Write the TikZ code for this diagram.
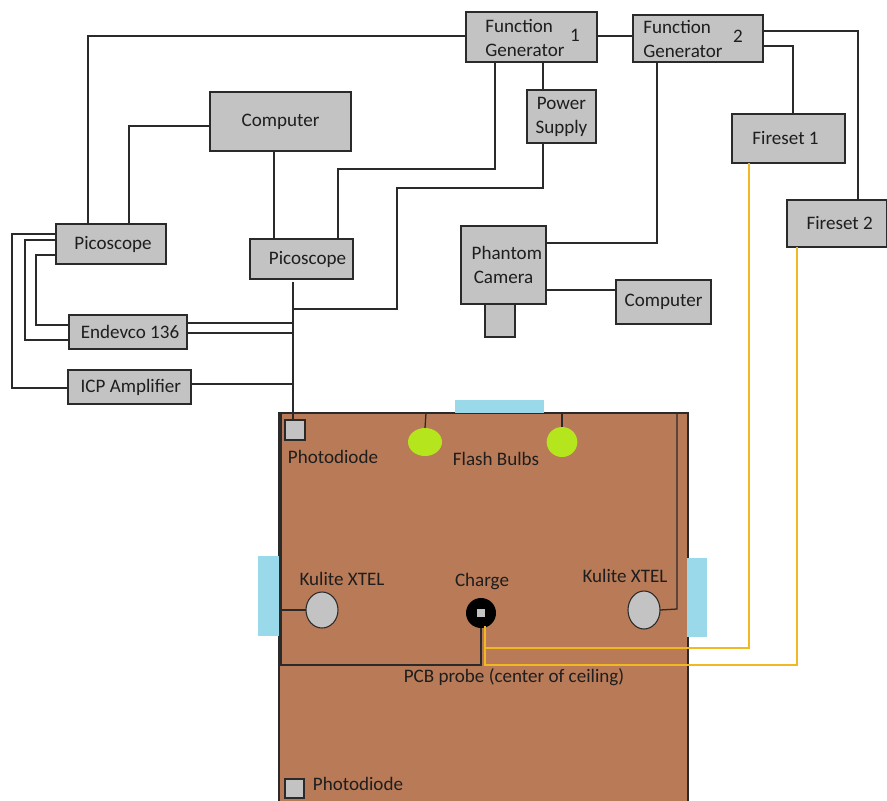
\documentclass[tikz,border=0pt]{standalone}
\usepackage{fontspec}
\setmainfont{Carlito}
\usetikzlibrary{calc}
\definecolor{boxgray}{HTML}{C3C3C3}
\definecolor{roombrown}{HTML}{B97A57}
\definecolor{window}{HTML}{99D9EA}
\definecolor{bulb}{HTML}{B5E61D}
\definecolor{wireyellow}{HTML}{F2B824}
\definecolor{wire}{HTML}{2A2A2A}
\definecolor{ink}{HTML}{1E1E1E}
\newcommand{\pxbox}[7][]{%
  \node[boxnode,#1,minimum width={(#5-#3)*0.75pt},minimum height={(#6-#4)*0.75pt}] (#2) at ({(#3+#5)/2},{(#4+#6)/2}) {#7};}
\tikzset{
  boxnode/.style={draw=wire,fill=boxgray,line width=1.1pt,inner sep=0pt,outer sep=0pt,text=ink,font=\fontsize{14.3}{18}\selectfont,align=center},
  lbl/.style={inner sep=0pt,outer sep=0pt,text=ink,font=\fontsize{14.3}{18}\selectfont,align=left},
  conn/.style={draw=wire,line width=0.95pt},
  yconn/.style={draw=wireyellow,line width=0.95pt},
  win/.style={boxnode,draw=none,fill=window},
  sensor/.style={draw=wire,fill=boxgray,line width=0.8pt,ellipse,inner sep=0pt,outer sep=0pt},
}
\usetikzlibrary{shapes.geometric}
\begin{document}
\begin{tikzpicture}[x=0.75pt,y=-0.75pt]
\useasboundingbox (0,0) rectangle (887,800);
\clip (0,0) rectangle (887,800);
% room and windows
\pxbox[fill=roombrown,line width=1.3pt]{room}{279}{413}{688}{812}{}
\pxbox[win]{wintop}{455}{400}{544}{413}{}
\pxbox[win]{winleft}{258}{556}{279}{636}{}
\pxbox[win]{winright}{687}{558}{707}{637}{}
% boxes
\pxbox{fg1}{466}{12}{597}{62}{}
\pxbox{fg2}{633}{15}{763}{62}{}
\pxbox{psu}{527}{90}{596}{143}{Power\\Supply}
\pxbox{fs1}{732}{114}{845}{163}{Fireset 1\hspace*{4.5pt}}
\pxbox{fs2}{787}{200}{887}{247}{\hspace*{4pt}Fireset 2}
\pxbox{cam}{461}{226}{546}{304}{\hspace*{5pt}Phantom\\Camera}
\pxbox{lens}{485}{304}{515}{337}{}
\pxbox{comb}{616}{280}{711}{324}{Computer}
\pxbox{coma}{210}{92}{351}{151}{Computer}
\pxbox{pl}{56}{224}{166}{264}{\hspace*{3pt}Picoscope}
\pxbox{pr}{250}{239}{353}{279}{\hspace*{9pt}Picoscope}
\pxbox{endevco}{69}{315}{187}{349}{\hspace*{3pt}Endevco 136}
\pxbox{icp}{68}{370}{191}{404}{\hspace*{2pt}ICP Amplifier}
\pxbox{pd}{285}{420}{305}{440}{}
\pxbox{pdb}{285}{779}{304}{798}{}
% box texts
\node[lbl] (fg1t) at (525,38) {Function\\Generator};
\node[lbl] (fg1n) at (575,35) {1};
\node[lbl] (fg2t) at (683,39) {Function\\Generator};
\node[lbl] (fg2n) at (738,36) {2};
% ceiling items
\node[sensor,fill=bulb,draw=none,minimum width=25.5pt,minimum height=21pt] (ba) at (425,442) {};
\node[sensor,fill=bulb,draw=none,minimum width=23pt,minimum height=22.5pt] (bb) at (562,442) {};
\node[sensor,minimum width=24pt,minimum height=27pt] (ka) at (322,610) {};
\node[sensor,minimum width=24pt,minimum height=28.5pt] (kb) at (644,610) {};
\node[circle,fill=black,minimum size=22.5pt,inner sep=0pt,outer sep=0pt] (charge) at (481,613) {};
\node[fill=boxgray,minimum size=6.5pt,inner sep=0pt] (chargec) at (481,613) {};
% room labels
\node[lbl] (tpd) at (333,457) {Photodiode};
\node[lbl] (tfb) at (496,459) {Flash Bulbs};
\node[lbl] (tka) at (342,579) {Kulite XTEL};
\node[lbl] (tch) at (482,582) {Charge};
\node[lbl] (tkb) at (625,576) {Kulite XTEL};
\node[lbl] (tpcb) at (514,677) {PCB probe (center of ceiling)};
\node[lbl] (tpdb) at (358,784) {Photodiode};
% named corners of the room wiring
\coordinate (bus) at (293,309);
\coordinate (inTL) at (281,413);
\coordinate (inTR) at (677,413);
% connectors
\path[conn] (fg1.west |- 0,36) -- (88,36) -- (pl.north -| 88,0);
\path[conn] (coma.west |- 0,126) -- (129,126) -- (pl.north -| 129,0);
\path[conn] (coma.south -| 274,0) -- (pr.north -| 274,0);
\path[conn] (fg1.south -| 495,0) -- (495,169) -- (338,169) -- (pr.north -| 338,0);
\path[conn] (fg1.south -| 543,0) -- (psu.north -| 543,0);
\path[conn] (psu.south -| 543,0) -- (543,188) -- (397,188) -- (397,309) -- (bus);
\path[conn] (293,282) -- (pd.north -| 293,0);
\path[conn] (fg1.east |- 0,36) -- (fg2.west |- 0,36);
\path[conn] (fg2.south -| 657,0) -- (657,243) -- (cam.east |- 0,243);
\path[conn] (fg2.east |- 0,31) -- (858,31) -- (fs2.north -| 858,0);
\path[conn] (fg2.east |- 0,46) -- (793,46) -- (fs1.north -| 793,0);
\path[conn] (cam.east |- 0,290) -- (comb.west |- 0,290);
\path[conn] (pl.west |- 0,234) -- (12,234) -- (12,388) -- (icp.west |- 0,388);
\path[conn] (pl.west |- 0,240) -- (25,240) -- (25,340) -- (endevco.west |- 0,340);
\path[conn] (pl.west |- 0,255) -- (36,255) -- (36,325) -- (endevco.west |- 0,325);
\path[conn] (endevco.east |- 0,323) -- (293,323);
\path[conn] (endevco.east |- 0,333) -- (293,333);
\path[conn] (icp.east |- 0,384) -- (293,384);
\path[conn] (inTL) -- (281,665) -- (481,665) -- (charge.south);
\path[conn] (281,610) -- (ka.west);
\path[conn] (inTR) -- (677,609) -- (kb.east);
\path[conn] (426,413) -- (ba.north);
\path[conn] (562,413) -- (bb.north);
\path[yconn] (fs1.south -| 749,0) -- (749,648) -- (485,648);
\path[yconn] (fs2.south -| 797,0) -- (797,665) -- (485,665) -- (485,626);
\end{tikzpicture}
\end{document}
